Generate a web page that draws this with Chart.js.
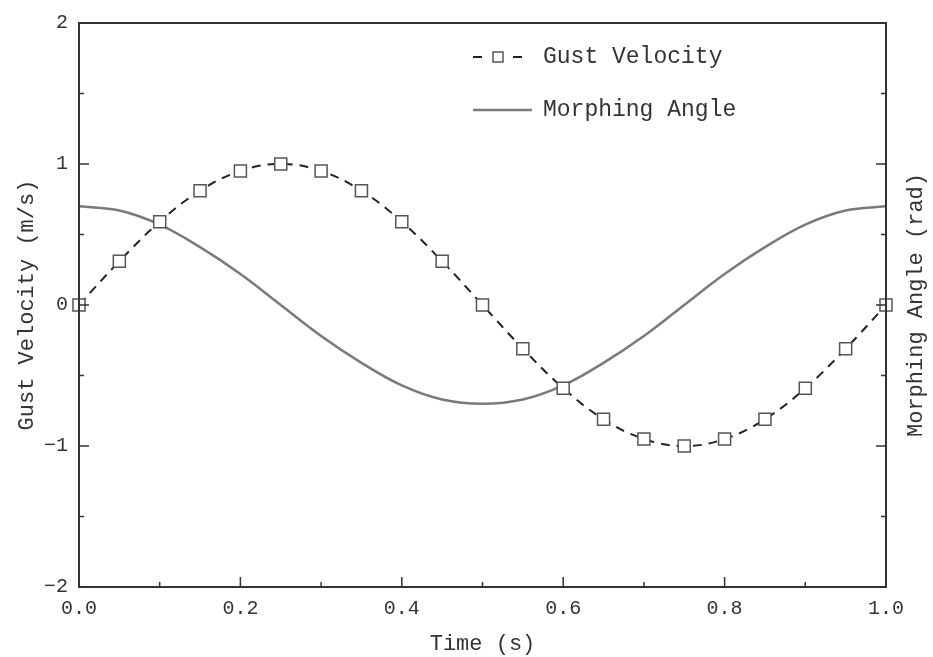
<!DOCTYPE html>
<html>
<head>
<meta charset="utf-8">
<script src="https://cdn.jsdelivr.net/npm/chart.js@4.4.0/dist/chart.umd.min.js"></script>
<style>
  body { margin: 0; background: #fff; }
  canvas { display: block; }
</style>
</head>
<body>
<canvas id="gustChart" width="933" height="657"></canvas>
<script>
// time samples (s)
const times = [0, 0.05, 0.1, 0.15, 0.2, 0.25, 0.3, 0.35, 0.4, 0.45, 0.5,
  0.55, 0.6, 0.65, 0.7, 0.75, 0.8, 0.85, 0.9, 0.95, 1.0];
// gust velocity (m/s)
const gustVelocity = [0, 0.31, 0.59, 0.81, 0.95, 1.0, 0.95, 0.81, 0.59, 0.31, 0,
  -0.31, -0.59, -0.81, -0.95, -1.0, -0.95, -0.81, -0.59, -0.31, 0];
// morphing angle (rad)
const morphingAngle = [0.70, 0.67, 0.57, 0.41, 0.22, 0, -0.22, -0.41, -0.57, -0.67, -0.70,
  -0.67, -0.57, -0.41, -0.22, 0, 0.22, 0.41, 0.57, 0.67, 0.70];
// tick positions
const xMajorTicks = [0, 0.2, 0.4, 0.6, 0.8, 1.0];
const xMinorTicks = [0.1, 0.3, 0.5, 0.7, 0.9];
const yMajorTicks = [-2, -1, 0, 1, 2];
const yMinorTicks = [-1.5, -0.5, 0.5, 1.5];

const FONT = "'Liberation Mono', 'DejaVu Sans Mono', monospace";
const TEXT = '#333';

// frame, inward ticks, right title and legend
const framePlugin = {
  id: 'frame',
  afterDraw(chart) {
    const ctx = chart.ctx;
    const a = chart.chartArea;
    const xs = chart.scales.x, ys = chart.scales.y;
    ctx.save();
    ctx.strokeStyle = '#333';
    ctx.lineWidth = 2;
    ctx.strokeRect(a.left, a.top, a.right - a.left, a.bottom - a.top);

    ctx.lineWidth = 1.5;
    ctx.beginPath();
    const tick = (x1, y1, x2, y2) => { ctx.moveTo(x1, y1); ctx.lineTo(x2, y2); };
    xMajorTicks.forEach(v => { const x = xs.getPixelForValue(v); tick(x, a.bottom, x, a.bottom - 10); });
    xMinorTicks.forEach(v => { const x = xs.getPixelForValue(v); tick(x, a.bottom, x, a.bottom - 5); });
    yMajorTicks.forEach(v => {
      const y = ys.getPixelForValue(v);
      tick(a.left, y, a.left + 10, y);
      tick(a.right, y, a.right - 10, y);
    });
    yMinorTicks.forEach(v => {
      const y = ys.getPixelForValue(v);
      tick(a.left, y, a.left + 5, y);
      tick(a.right, y, a.right - 5, y);
    });
    ctx.stroke();

    // right axis title, reads bottom to top
    ctx.fillStyle = TEXT;
    ctx.font = '22px ' + FONT;
    ctx.textAlign = 'center';
    ctx.textBaseline = 'middle';
    ctx.translate(916, (a.top + a.bottom) / 2);
    ctx.rotate(-Math.PI / 2);
    ctx.fillText('Morphing Angle (rad)', 0, 0);
    ctx.restore();

    // legend
    const g = chart.data.datasets[0], m = chart.data.datasets[1];
    ctx.save();
    ctx.strokeStyle = g.borderColor;
    ctx.lineWidth = g.borderWidth;
    ctx.beginPath();
    tick(473, 57, 482, 57);
    tick(513, 57, 522, 57);
    ctx.stroke();
    ctx.fillStyle = '#fff';
    ctx.strokeStyle = g.pointBorderColor;
    ctx.lineWidth = g.pointBorderWidth;
    ctx.fillRect(493, 52, 10, 10);
    ctx.strokeRect(493, 52, 10, 10);
    ctx.strokeStyle = m.borderColor;
    ctx.lineWidth = m.borderWidth;
    ctx.beginPath();
    tick(473, 110, 532, 110);
    ctx.stroke();
    ctx.fillStyle = TEXT;
    ctx.font = '23px ' + FONT;
    ctx.textAlign = 'left';
    ctx.textBaseline = 'middle';
    ctx.fillText(g.label, 543, 57);
    ctx.fillText(m.label, 543, 110);
    ctx.restore();
  }
};

const gustCanvas = document.getElementById('gustChart').getContext('2d');
new Chart(gustCanvas, {
  type: 'line',
  data: {
    datasets: [{
      label: 'Gust Velocity',
      data: times.map((t, i) => ({ x: t, y: gustVelocity[i] })),
      borderColor: '#222',
      borderWidth: 2,
      borderDash: [9, 7],
      pointStyle: 'rect',
      pointRadius: 8.5,
      pointBackgroundColor: '#fff',
      pointBorderColor: '#555',
      pointBorderWidth: 1.5,
      tension: 0.4,
      clip: false,
      order: 0,
    }, {
      label: 'Morphing Angle',
      data: times.map((t, i) => ({ x: t, y: morphingAngle[i] })),
      yAxisID: 'y1',
      borderColor: '#7a7a7a',
      borderWidth: 2.5,
      pointRadius: 0,
      tension: 0.4,
      order: 1,
    }],
  },
  options: {
    responsive: false,
    animation: false,
    layout: { padding: { top: 23, left: 0, right: 0, bottom: 0 } },
    plugins: { legend: { display: false }, tooltip: { enabled: false } },
    scales: {
      x: {
        type: 'linear',
        min: 0,
        max: 1,
        afterFit(s) { s.height = 70; },
        grid: { display: false, drawTicks: false },
        border: { display: false },
        ticks: {
          stepSize: 0.2,
          padding: 10,
          color: TEXT,
          font: { family: FONT, size: 20 },
          maxRotation: 0,
          callback: v => v.toFixed(1),
        },
        title: {
          display: true,
          text: 'Time (s)',
          color: TEXT,
          font: { family: FONT, size: 22 },
          padding: { top: 0, bottom: 0 },
        },
      },
      y: {
        position: 'left',
        min: -2,
        max: 2,
        afterFit(s) { s.width = 79; },
        grid: { display: false, drawTicks: false },
        border: { display: false },
        ticks: {
          stepSize: 1,
          padding: 11,
          color: TEXT,
          font: { family: FONT, size: 20 },
          callback: v => String(v).replace('-', '\u2212'),
        },
        title: {
          display: true,
          text: 'Gust Velocity (m/s)',
          color: TEXT,
          font: { family: FONT, size: 22 },
          padding: { top: 14, bottom: 0 },
        },
      },
      y1: {
        position: 'right',
        min: -2,
        max: 2,
        afterFit(s) { s.width = 47; },
        grid: { display: false, drawTicks: false },
        border: { display: false },
        ticks: { display: false, stepSize: 1 },
      },
    },
  },
  plugins: [framePlugin],
});
</script>
</body>
</html>
